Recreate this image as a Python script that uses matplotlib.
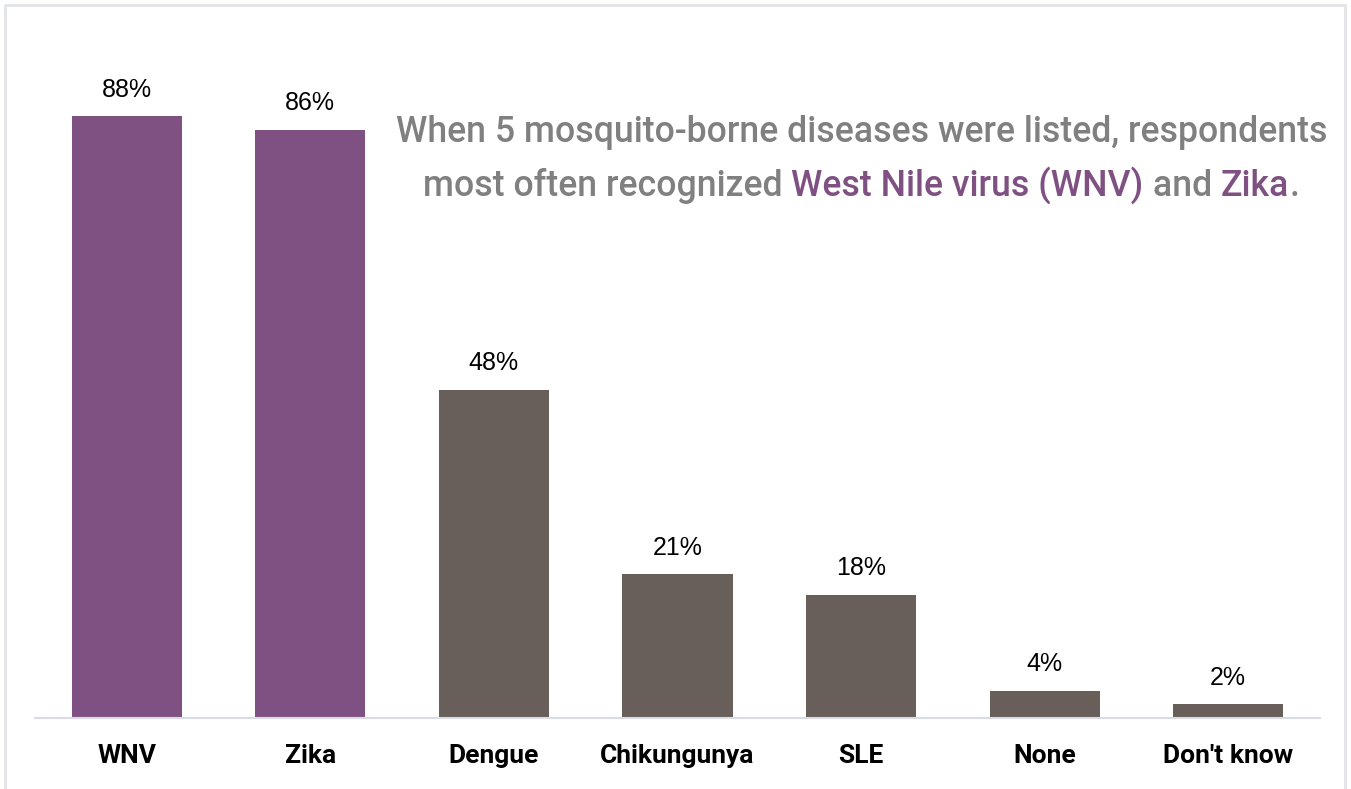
import matplotlib.pyplot as plt
from matplotlib.patches import Rectangle

categories = ['WNV', 'Zika', 'Dengue', 'Chikungunya', 'SLE', 'None', "Don't know"]
values = [88, 86, 48, 21, 18, 4, 2]
highlight = [True, True, False, False, False, False, False]

purple = '#7f5183'
brown = '#695f5a'
title_gray = '#808080'
narrow = 'Roboto'

fig = plt.figure(figsize=(13.51, 7.89), dpi=100)
ax = fig.add_axes([35 / 1351, 71 / 789, 1285 / 1351, 684 / 789])

colors = [purple if h else brown for h in highlight]
x = range(len(categories))
bars = ax.bar(x, values, width=0.6, color=colors)

for b, v in zip(bars, values):
    ax.annotate(f'{v}%', (b.get_x() + b.get_width() / 2, v), xytext=(0, 19),
                textcoords='offset points', ha='center', va='center',
                fontsize=18, family='Liberation Sans', color='black')

ax.set_xlim(-0.5, len(categories) - 0.5)
ax.set_ylim(0, 100)
ax.set_xticks(list(x))
ax.set_xticklabels(categories, fontsize=19, family=narrow, weight='bold')
ax.tick_params(axis='x', length=0, pad=19)
ax.set_yticks([])
for s in ['top', 'right', 'left']:
    ax.spines[s].set_visible(False)
ax.spines['bottom'].set_color('#d9dde3')
ax.spines['bottom'].set_linewidth(1.5)

# figure border
fig.patches.append(Rectangle((5 / 1351, -0.01), 1340 / 1351, 1 - 5 / 789 + 0.01,
                             transform=fig.transFigure, fill=False,
                             edgecolor='#e1e4e8', linewidth=2))

# title, two lines, second with coloured parts
line1 = 'When 5 mosquito-borne diseases were listed, respondents'
parts = [('most often recognized ', title_gray), ('West Nile virus (WNV)', purple),
         (' and ', title_gray), ('Zika', purple), ('.', title_gray)]
tkw = dict(fontsize=24, family=narrow, weight='medium')
fig.canvas.draw()
r = fig.canvas.get_renderer()
t = fig.text(0, 0, line1, **tkw)
w1 = t.get_window_extent(r).width
t.remove()
tkw['fontsize'] = 24 * 932 / w1

fig.text(862 / 1351, 1 - 133 / 789, line1,
         ha='center', va='center', color=title_gray, **tkw)

widths = []
for s, c in parts:
    t = fig.text(0, 0, s, **tkw)
    widths.append(t.get_window_extent(r).width)
    t.remove()
xpos = 861 - sum(widths) / 2
y2 = 1 - 186 / 789
for (s, c), w in zip(parts, widths):
    fig.text(xpos / 1351, y2, s, ha='left', va='center', color=c, **tkw)
    xpos += w

fig.savefig('out.png', dpi=100)
